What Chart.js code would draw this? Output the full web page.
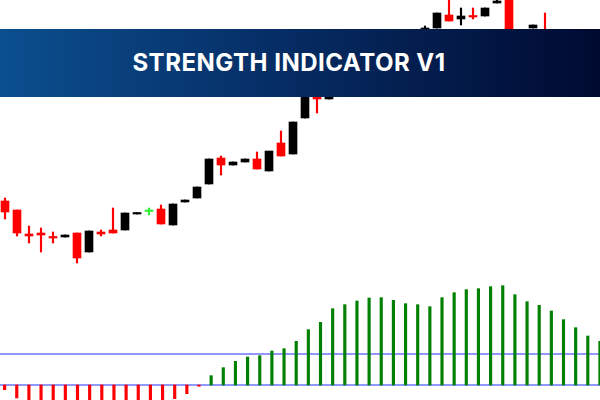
<!doctype html>
<html>
<head>
  <script src="https://cdn.jsdelivr.net/npm/chart.js@4"></script>
  <style>
    body { margin: 0; background: #fff; }
    .wrap { position: relative; width: 600px; height: 400px; overflow: hidden; }
    .banner {
      position: absolute; left: 0; top: 29px; width: 600px; height: 68px;
      background: linear-gradient(90deg, #0b4f8f 0%, #062e66 45%, #000a30 100%);
      color: #fff; font-family: Inter, "Open Sans", sans-serif; font-weight: 700;
      font-size: 24px; letter-spacing: 0.5px; line-height: 68px;
      text-align: center; padding-right: 22px; box-sizing: border-box;
    }
  </style>
</head>
<body>
  <div class="wrap">
    <canvas id="myChart" width="600" height="400"></canvas>
    <div class="banner">STRENGTH INDICATOR V1</div>
  </div>
  <script>
    // candle prices (400 = top of picture)
    var opens  = [199, 190, 166, 167, 163, 163, 167, 148, 168, 170, 170, 186, 188.5, 191, 175, 198, 202, 216, 242, 235, 238, 241, 229, 257, 246, 282, 303, 301, 310, 318, 325, 333, 340, 348, 356, 365, 372, 385, 381, 384, 384, 397, 400, 360, 372, 322, 318];
    var closes = [188, 167, 164, 165, 162, 165, 142, 169, 166, 167, 187, 187, 188.5, 176, 196, 200, 213, 241, 235, 238, 241, 231, 249, 244, 278, 303, 301, 303, 318, 325, 333, 340, 348, 356, 365, 372, 387, 379, 384, 383, 392, 399, 371, 364, 375, 315, 316];
    var highs  = [202, 190, 174, 172, 168, 165, 167, 169, 170, 192, 187, 187, 192, 195, 196, 200, 213, 241, 244, 238, 241, 248, 248, 269, 278, 303, 303, 303, 320, 327, 335, 342, 350, 358, 367, 374, 387, 400, 392, 392, 392, 400, 400, 366, 375, 387, 318];
    var lows   = [181, 164, 157, 148, 157, 163, 137, 148, 164, 167, 170, 186, 185, 176, 175, 198, 202, 216, 225, 235, 238, 231, 229, 244, 246, 282, 287, 301, 308, 316, 323, 331, 338, 346, 354, 363, 372, 379, 375, 381, 384, 397, 360, 358, 372, 308, 316];
    var greenDoji = [12];

    // strength histogram (positive = green, negative = red)
    var strength = [-14, -39, -50, -52, -54, -55, -56, -56, -55, -54, -52, -50, -48, -46, -41, -26, -4,
      28, 52, 71, 84, 88, 102, 109, 131, 166, 188, 229, 241, 252, 261, 262, 254, 244, 241, 235,
      262, 277, 286, 289, 295, 298, 271, 250, 239, 222, 196, 172, 147, 131];
    var levelLine = 93;

    var wicks = [], bodies = [], bodyColors = [];
    opens.forEach(function(o, i) {
      var c = closes[i];
      wicks.push({ x: i, y: [lows[i], highs[i]] });
      var lo = Math.min(o, c), hi = Math.max(o, c);
      if (hi - lo < 1.5) { hi = lo + 1.5; }
      bodies.push({ x: i, y: [lo, hi] });
      bodyColors.push(greenDoji.indexOf(i) >= 0 ? '#33ee33' : (c >= o ? '#000000' : '#ff0000'));
    });

    var hist = strength.map(function(v, i) { return { x: i, y: [0, v] }; });
    var histColors = strength.map(function(v) { return v < 0 ? '#ff0000' : '#008000'; });

    var candleMin = -5 / 12, histStep = 12.15, histMin = -4.6 / histStep;
    var config = {
      data: {
        datasets: [{
          type: 'bar', data: wicks, xAxisID: 'xc', yAxisID: 'yc', grouped: false,
          backgroundColor: bodyColors, barThickness: 1.5
        }, {
          type: 'bar', data: bodies, xAxisID: 'xc', yAxisID: 'yc', grouped: false,
          backgroundColor: bodyColors, barThickness: 8
        }, {
          type: 'bar', data: hist, xAxisID: 'xh', yAxisID: 'yh', grouped: false,
          backgroundColor: histColors, barThickness: 2.5
        }, {
          type: 'line', data: [{ x: -5, y: levelLine }, { x: 80, y: levelLine }],
          xAxisID: 'xh', yAxisID: 'yh', borderColor: '#2233ff', borderWidth: 1, pointRadius: 0
        }, {
          type: 'line', data: [{ x: -5, y: 0 }, { x: 80, y: 0 }],
          xAxisID: 'xh', yAxisID: 'yh', borderColor: '#2233ff', borderWidth: 1, pointRadius: 0
        }]
      },
      options: {
        responsive: false, animation: false,
        layout: { padding: 0 },
        scales: {
          xc: { type: 'linear', display: false, offset: false, min: candleMin, max: candleMin + 50 },
          yc: { type: 'linear', display: false, min: 0, max: 400 },
          xh: { type: 'linear', display: false, offset: false, min: histMin, max: histMin + 600 / histStep },
          yh: { type: 'linear', display: false, min: -45, max: 1155 }
        },
        plugins: { legend: { display: false }, tooltip: { enabled: false } }
      }
    };

    new Chart(document.getElementById('myChart').getContext('2d'), config);
  </script>
</body>
</html>
